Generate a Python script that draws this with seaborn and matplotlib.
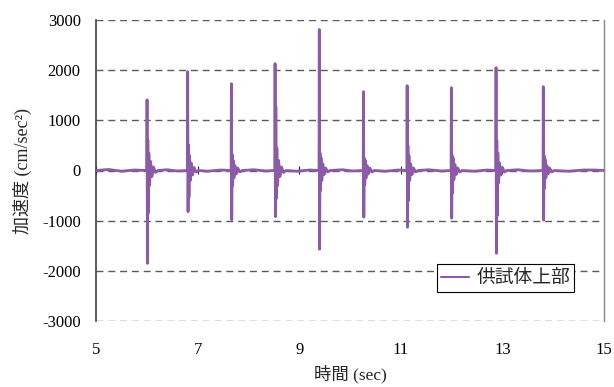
import matplotlib
matplotlib.use("Agg")
import matplotlib.pyplot as plt
import seaborn as sns
import pandas as pd

# ---- data ----
series_name = "供試体上部"
x_ticks = [5, 7, 9, 11, 13, 15]
y_ticks = [-3000, -2000, -1000, 0, 1000, 2000, 3000]

baseline_t = [5.00, 5.25, 5.50, 5.75]
baseline_a = [0, 20, -15, 10]

event_t = [
    [6.000, 6.005, 6.012, 6.020, 6.030, 6.040, 6.055, 6.075, 6.100, 6.130, 6.170, 6.220, 6.40, 6.60],
    [6.800, 6.805, 6.812, 6.820, 6.830, 6.840, 6.855, 6.875, 6.900, 6.930, 6.970, 7.020, 7.20, 7.45],
    [7.660, 7.665, 7.672, 7.680, 7.690, 7.700, 7.715, 7.735, 7.760, 7.790, 7.830, 7.880, 8.10, 8.35],
    [8.520, 8.525, 8.532, 8.540, 8.550, 8.560, 8.575, 8.595, 8.620, 8.650, 8.690, 8.740, 8.95, 9.20],
    [9.390, 9.395, 9.402, 9.410, 9.420, 9.430, 9.445, 9.465, 9.490, 9.520, 9.560, 9.610, 9.85, 10.05],
    [10.260, 10.265, 10.272, 10.280, 10.290, 10.300, 10.315, 10.335, 10.360, 10.390, 10.430, 10.480, 10.70, 10.95],
    [11.120, 11.125, 11.132, 11.140, 11.150, 11.160, 11.175, 11.195, 11.220, 11.250, 11.290, 11.340, 11.55, 11.80],
    [11.990, 11.995, 12.002, 12.010, 12.020, 12.030, 12.045, 12.065, 12.090, 12.120, 12.160, 12.210, 12.45, 12.70],
    [12.870, 12.875, 12.882, 12.890, 12.900, 12.910, 12.925, 12.945, 12.970, 13.000, 13.040, 13.090, 13.30, 13.55],
    [13.800, 13.805, 13.812, 13.820, 13.830, 13.840, 13.855, 13.875, 13.900, 13.930, 13.970, 14.020, 14.30, 14.60],
]
event_a = [
    [0, 1410, -1850, 610, -850, 350, -300, 180, -120, 70, -40, 0, 15, -10],
    [0, 1970, -820, 510, -530, 300, -200, 150, -90, 60, -30, 0, -15, 10],
    [0, 1730, -980, 320, -300, 200, -150, 100, -70, 50, -30, 0, 15, -10],
    [0, 2130, -920, 1270, -560, 450, -300, 200, -120, 70, -40, 0, -15, 10],
    [0, 2810, -1570, 350, -400, 250, -200, 130, -80, 50, -30, 0, 15, -10],
    [0, 1570, -930, 250, -280, 200, -150, 100, -70, 50, -30, 0, -15, 10],
    [0, 1690, -1130, 500, -600, 300, -200, 130, -80, 50, -30, 0, 15, -10],
    [0, 1650, -950, 300, -450, 250, -180, 120, -80, 50, -30, 0, -15, 10],
    [0, 2050, -1650, 600, -900, 350, -250, 150, -90, 60, -30, 0, 15, -10],
    [0, 1670, -990, 300, -350, 220, -150, 100, -70, 50, -30, 0, -15, 10],
]
tail_t = [14.80, 15.00]
tail_a = [10, 0]

t_all = baseline_t + [v for ev in event_t for v in ev] + tail_t
a_all = baseline_a + [v for ev in event_a for v in ev] + tail_a
df = pd.DataFrame({"time": t_all, "accel": a_all})

# ---- figure ----
sns.set_style("white")
plt.rcParams["font.family"] = ["Liberation Serif", "Noto Sans CJK JP"]

fig = plt.figure(figsize=(6.14, 3.87), dpi=100)
ax = fig.add_axes([96 / 614, 1 - 321 / 387, 508 / 614, 301 / 387])

line_color = "#8C5AA6"
sns.lineplot(data=df, x="time", y="accel", ax=ax, color=line_color, lw=2.0,
             estimator=None, sort=False, label=series_name, zorder=3)

ax.set_xlim(5, 15)
ax.set_ylim(-3000, 3000)
ax.set_xticks(x_ticks)
ax.set_yticks(y_ticks)
ax.set_xticklabels([str(v) for v in x_ticks])
ax.set_yticklabels([str(v) for v in y_ticks])

ax.yaxis.grid(True, linestyle=(0, (5, 3.5)), color="#5a5a5a", lw=1.0, zorder=1)
ax.xaxis.grid(False)

for s in ["top", "bottom"]:
    ax.spines[s].set_visible(False)
ax.spines["left"].set_color("#404040")
ax.spines["left"].set_linewidth(1.2)
ax.spines["right"].set_color("#888888")
ax.spines["right"].set_linewidth(1.0)

ax.tick_params(axis="both", length=0, labelsize=12, colors="black")
ax.tick_params(axis="y", pad=11)
ax.tick_params(axis="x", pad=15)

# small tick marks on the zero line (axis crossing at 0)
sec = ax.secondary_xaxis(0.5)
sec.set_xticks(x_ticks)
sec.set_xticklabels([""] * len(x_ticks))
sec.tick_params(axis="x", direction="inout", length=6, width=0.8, color="#222222")
sec.spines["bottom"].set_visible(False)

ax.set_xlabel("時間 (sec)", fontsize=12.5, labelpad=5)
ax.set_ylabel("加速度 (cm/sec²)", fontsize=13, labelpad=7)

leg = ax.legend(loc="lower left", bbox_to_anchor=(0.671, 0.096), frameon=True,
                fancybox=False, edgecolor="black", handlelength=1.5,
                handletextpad=0.4, borderpad=0.2, borderaxespad=0,
                prop={"family": ["Noto Sans CJK JP"], "size": 13.5})
leg.get_frame().set_linewidth(0.8)
leg.get_frame().set_alpha(1)
for h in leg.get_lines():
    h.set_linewidth(1.5)

fig.savefig("out.png", dpi=100)
